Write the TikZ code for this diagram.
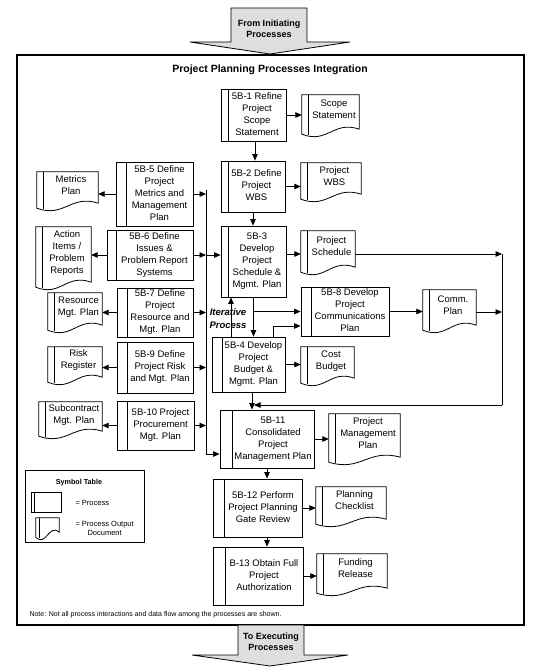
\documentclass[tikz,border=0pt]{standalone}
\usepackage{fontspec}
\setmainfont{Liberation Sans}
\usetikzlibrary{arrows.meta,calc}
\newcommand\bx[2]{\hspace*{#1}\begin{tabular}{@{}c@{}}#2\end{tabular}}
\newcommand\docout[2]{%
  \draw[docline] (#1.north west) -- (#1.north east) -- ([yshift=-3pt]#1.south east)
    .. controls ($(#1.south east)!0.45!(#1.south west)+(0,-6)$) and ($(#1.south east)!0.55!(#1.south west)+(0,18)$) .. ([yshift=-8pt]#1.south west) -- cycle;
  \draw[docline] ([xshift=#2]#1.north west) -- ([xshift=#2,yshift=-8.5pt]#1.south west);}
\begin{document}
\begin{tikzpicture}[x=1pt,y=-1pt,
  proc/.style={draw, line width=0.8pt, rectangle, inner sep=0pt,
    font=\fontsize{9.5}{12}\selectfont,
    path picture={\draw[line width=0.8pt] ([xshift=#1]path picture bounding box.north west) -- ([xshift=#1]path picture bounding box.south west);}},
  proc/.default=10pt,
  doc/.style={rectangle, inner sep=0pt, font=\fontsize{9.5}{12}\selectfont},
  docline/.style={line width=0.8pt},
  conn/.style={line width=0.8pt, -{Triangle[length=6.5pt,width=5.5pt]}},
  wire/.style={line width=0.8pt},
  bigarrow/.style={draw, line width=0.8pt, fill=black!13},
  bigtext/.style={align=center, font=\bfseries\fontsize{9}{10.5}\selectfont},
  frame/.style={line width=1.2pt}]
\useasboundingbox (0,0) rectangle (538,672);

% entry / exit arrows and frame
\draw[bigarrow] (231,8) -- (307,8) -- (307,42) -- (350,42) -- (270,54) -- (190,42) -- (231,42) -- cycle;
\node[bigtext] (from) at (269,29) {From Initiating\\Processes};
\draw[frame] (17,55) rectangle (524,625);
\draw[bigarrow] (238,625) -- (304,625) -- (304,655) -- (348,655) -- (270,666) -- (192,655) -- (238,655) -- cycle;
\node[bigtext] (to) at (271,642) {To Executing\\Processes};
\node[font=\bfseries\fontsize{10.5}{12}\selectfont] (title) at (270,70) {Project Planning Processes Integration};

% process boxes
\node[proc=7pt, minimum width=65pt, minimum height=52pt] (p1) at (253.5,115) {\bx{7pt}{5B-1 Refine\\Project\\Scope\\Statement}};
\node[proc=7pt, minimum width=64pt, minimum height=51pt] (p2) at (253,186.5) {\bx{7pt}{5B-2 Define\\Project\\WBS}};
\node[proc=7pt, minimum width=65pt, minimum height=71pt] (p3) at (253.5,261.5) {\bx{7pt}{5B-3\\Develop\\Project\\Schedule \&\\Mgmt. Plan}};
\node[proc, minimum width=73pt, minimum height=55pt] (p4) at (248.5,364.5) {\bx{10pt}{5B-4 Develop\\Project\\Budget \&\\Mgmt. Plan}};
\node[proc, minimum width=77pt, minimum height=64pt] (p5) at (154.5,194) {\bx{10pt}{5B-5 Define\\Project\\Metrics and\\Management\\Plan}};
\node[proc=9pt, minimum width=86pt, minimum height=50pt] (p6) at (150,255) {\bx{9pt}{5B-6 Define\\Issues \&\\Problem Report\\Systems}};
\node[proc, minimum width=76pt, minimum height=49pt] (p7) at (155,312.5) {\bx{10pt}{5B-7 Define\\Project\\Resource and\\Mgt. Plan}};
\node[proc, minimum width=76pt, minimum height=51pt] (p9) at (155,367.5) {\bx{10pt}{5B-9 Define\\Project Risk\\and Mgt. Plan}};
\node[proc, minimum width=77pt, minimum height=49pt] (p10) at (155.5,425.5) {\bx{10pt}{5B-10 Project\\Procurement\\Mgt. Plan}};
\node[proc, minimum width=88pt, minimum height=49pt] (p8) at (345,311.5) {\bx{10pt}{5B-8 Develop\\Project\\Communications\\Plan}};
\node[proc=12pt, minimum width=94pt, minimum height=58pt] (p11) at (267,439) {\bx{12pt}{5B-11\\Consolidated\\Project\\Management Plan}};
\node[proc=11pt, minimum width=89pt, minimum height=58pt] (p12) at (257.5,508) {\bx{11pt}{5B-12 Perform\\Project Planning\\Gate Review}};
\node[proc=12pt, minimum width=90pt, minimum height=58pt] (p13) at (258,576) {\bx{12pt}{B-13 Obtain Full\\Project\\Authorization}};

% output documents
\node[doc, minimum width=57pt, minimum height=31pt] (scope) at (330.5,110.5) {\bx{7pt}{Scope\\Statement}};
\node[doc, minimum width=60pt, minimum height=28pt] (wbs) at (331,177) {\bx{7pt}{Project\\WBS}};
\node[doc, minimum width=54pt, minimum height=33pt] (sched) at (328,247.5) {\bx{7pt}{Project\\Schedule}};
\node[doc, minimum width=61pt, minimum height=28pt] (metrics) at (67.5,186) {\bx{7pt}{Metrics\\Plan}};
\node[doc, minimum width=55pt, minimum height=52pt] (action) at (63.5,253) {\bx{7pt}{Action\\Items /\\Problem\\Reports}};
\node[doc, minimum width=54pt, minimum height=29pt] (resource) at (75,307.5) {\bx{7pt}{Resource\\Mgt. Plan}};
\node[doc, minimum width=54pt, minimum height=27pt] (risk) at (75,360.5) {\bx{7pt}{Risk\\Register}};
\node[doc, minimum width=63pt, minimum height=26pt] (subc) at (70.5,415) {\bx{7pt}{Subcontract\\Mgt. Plan}};
\node[doc, minimum width=53pt, minimum height=28pt] (cost) at (327.5,361) {\bx{7pt}{Cost\\Budget}};
\node[doc, minimum width=53pt, minimum height=32pt] (comm) at (449.5,306) {\bx{7pt}{Comm.\\Plan}};
\node[doc, minimum width=71pt, minimum height=40pt] (pmp) at (364.5,434) {\bx{7pt}{Project\\Management\\Plan}};
\node[doc, minimum width=70pt, minimum height=29pt] (check) at (351,501.5) {\bx{7pt}{Planning\\Checklist}};
\node[doc, minimum width=70pt, minimum height=31pt] (fund) at (352,569.5) {\bx{7pt}{Funding\\Release}};
\foreach \d in {scope,wbs,sched,metrics,action,resource,risk,subc,cost,comm,pmp,check,fund} {\docout{\d}{7pt}}

% helper coordinates
\coordinate (vtop) at (206,190);
\coordinate (vbot) at (206,454);
\coordinate (rt1) at (502,254);
\coordinate (rt2) at (502,312);
\coordinate (rt3) at (502,405);
\coordinate (j405) at (254,405);

% centre column flow
\draw[conn] ([xshift=1.5pt]p1.south) -- ([xshift=1.5pt]p1.south |- p2.north);
\draw[conn] (p1.east) -- (p1.east -| scope.west);
\draw[conn] (p2.east) -- (p2.east -| wbs.west);
\draw[conn] (p2.south) -- (p2.south |- p3.north);
\draw[conn] ([yshift=7.5pt]p3.east) -- ([yshift=7.5pt]p3.east -| sched.west);
\draw[conn] ([yshift=-6.5pt]sched.east) -- (rt1);
\draw[conn] (p8.east) -- (p8.east -| comm.west);
\draw[conn] (rt2 -| comm.east) -- (rt2);
\draw[wire] (rt1) -- (rt3);
\draw[conn] (rt3) -- (j405);
\draw[conn] ([xshift=-17.5pt]p4.north) -- ([xshift=-17.5pt]p4.north |- p3.south);
\draw[conn] (p3.south) -- (p3.south |- p4.north);
\draw[conn] (p3.south |- p8.west) -- (p8.west);
\draw[conn] ([xshift=24.5pt]p4.north) |- ([yshift=-14.5pt]p8.west);
\draw[conn] (p4.east) -- (p4.east -| cost.west);
\draw[conn] ([xshift=3.5pt]p4.south) -- ([xshift=3.5pt]p4.south |- p11.north);
\draw[conn] (p11.east) -- (p11.east -| pmp.west);
\draw[conn] (p11.south) -- (p11.south |- p12.north);
\draw[conn] (p12.east) -- (p12.east -| check.west);
\draw[conn] (p11.south |- p12.south) -- (p11.south |- p13.north);
\draw[conn] (p13.east) -- (p13.east -| fund.west);
\node[align=center, font=\bfseries\itshape\fontsize{9.5}{13}\selectfont] (iter) at (228,319) {Iterative\\Process};

% left column
\draw[conn] (p5.west) -- (p5.west -| metrics.east);
\draw[conn] (p6.west) -- (p6.west -| action.east);
\draw[conn] (p7.west) -- (p7.west -| resource.east);
\draw[conn] (p9.west) -- (p9.west -| risk.east);
\draw[conn] (p10.west) -- (p10.west -| subc.east);
\draw[conn] (p5.east) -- (p5.east -| vtop);
\draw[conn] (p6.east) -- (p6.east -| vtop);
\draw[conn] (p7.east) -- (p7.east -| vtop);
\draw[conn] (p9.east) -- (p9.east -| vtop);
\draw[conn] (p10.east) -- (p10.east -| vtop);
\draw[wire] (vtop) -- (vbot);
\draw[conn] (vbot) -- (vbot -| p11.west);
\draw[conn] (p6.east -| vtop) -- (p6.east -| p3.west);

% symbol table
\node[draw, line width=0.8pt, minimum width=119pt, minimum height=72pt, inner sep=0pt] (symtab) at (84.5,506) {};
\node[font=\bfseries\fontsize{7.2}{8}\selectfont] (symtitle) at (79,483) {Symbol Table};
\node[proc=3.5pt, minimum width=30pt, minimum height=20pt] (symproc) at (46,502) {};
\node[doc, minimum width=23pt, minimum height=11pt] (symdoc) at (47.5,523.5) {};
\docout{symdoc}{3.5pt}
\node[anchor=west, font=\fontsize{7.5}{9}\selectfont] (symproctext) at (72,502.5) {= Process};
\node[anchor=west, align=center, font=\fontsize{7.5}{9}\selectfont] (symdoctext) at (72,528) {= Process Output\\Document};

\node[anchor=west, font=\fontsize{7}{8}\selectfont] (note) at (26,615) {Note: Not all process interactions and data flow among the processes are shown.};
\end{tikzpicture}
\end{document}
